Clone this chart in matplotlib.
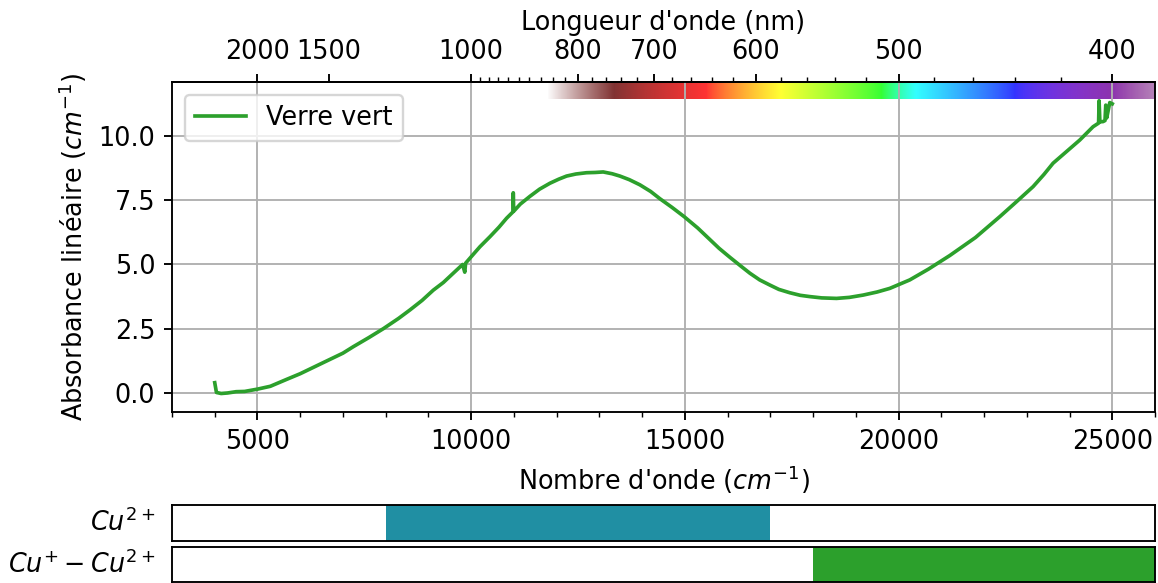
import numpy as np
import matplotlib
matplotlib.use("Agg")
import matplotlib.pyplot as plt
from matplotlib.ticker import AutoMinorLocator, FixedLocator

# Absorption spectrum of the green glass (wavenumber in cm^-1, absorbance in cm^-1)
wavenumber = [
    4000, 4040, 4150, 4300, 4500, 4700, 5000, 5300, 5683, 6000, 6462, 7000,
    7241, 7600, 7943, 8300, 8567, 8850, 9113, 9350, 9581, 9800, 9850, 9870,
    10000, 10205, 10439, 10650, 10829, 10980, 10985, 10995, 11150, 11374,
    11600, 11842, 12050, 12232, 12450, 12700, 12900, 13089, 13300, 13480,
    13700, 13947, 14200, 14415, 14700, 14984, 15300, 15585, 15800, 16053,
    16300, 16521, 16750, 16988, 17200, 17456, 17700, 17924, 18200, 18549,
    18850, 19173, 19500, 19795, 20050, 20263, 20700, 21200, 21800, 22368,
    22758, 23148, 23400, 23615, 23927, 24239, 24551, 24680, 24692, 24710,
    24785, 24830, 24848, 24870, 24942, 25000,
]
absorbance = [
    0.40, 0.02, -0.02, 0.00, 0.05, 0.06, 0.15, 0.26, 0.53, 0.75, 1.12, 1.55,
    1.80, 2.15, 2.50, 2.90, 3.23, 3.60, 4.00, 4.30, 4.66, 5.00, 4.70, 5.05,
    5.30, 5.69, 6.08, 6.45, 6.80, 7.05, 7.79, 7.07, 7.35, 7.65,
    7.93, 8.16, 8.32, 8.44, 8.52, 8.57, 8.58, 8.60, 8.53, 8.44,
    8.30, 8.10, 7.84, 7.56, 7.22, 6.86, 6.42, 5.97, 5.63, 5.28,
    4.95, 4.66, 4.40, 4.20, 4.03, 3.90, 3.80, 3.75, 3.70, 3.68,
    3.72, 3.81, 3.93, 4.07, 4.25, 4.40, 4.82, 5.35, 6.05, 6.86,
    7.44, 8.03, 8.50, 8.94, 9.39, 9.84, 10.36, 10.50, 11.37, 10.55,
    10.56, 10.60, 11.20, 10.70, 11.30, 11.25,
]
series_label = "Verre vert"

# Absorption bands of the copper species (cm^-1)
band_labels = [r"$Cu^{2+}$", r"$Cu^{+}-Cu^{2+}$"]
band_ranges = [(8000, 17000), (18000, 26000)]
band_colors = ["#208fa3", "#2ca02c"]

x_ticks = [5000, 10000, 15000, 20000, 25000]
y_ticks = [0.0, 2.5, 5.0, 7.5, 10.0]
nm_major = [2000, 1500, 1000, 800, 700, 600, 500, 400]
nm_minor = list(range(420, 1000, 20))

XLIM = (3000, 26000)
YLIM = (-0.74, 12.1)

plt.rcParams["font.size"] = 10.8


def wn_to_nm(x):
    x = np.asarray(x, dtype=float)
    with np.errstate(divide="ignore", invalid="ignore"):
        return 1e7 / x


def wavelength_to_rgba(lam, gamma=0.8):
    """Approximate visible colour of a wavelength (nm), faded outside the visible range."""
    w = min(max(lam, 380.0), 750.0)
    if w <= 440:
        att = 0.3 + 0.7 * (w - 380) / 60
        r, g, b = ((440 - w) / 60 * att) ** gamma, 0.0, att ** gamma
    elif w <= 490:
        r, g, b = 0.0, ((w - 440) / 50) ** gamma, 1.0
    elif w <= 510:
        r, g, b = 0.0, 1.0, ((510 - w) / 20) ** gamma
    elif w <= 580:
        r, g, b = ((w - 510) / 70) ** gamma, 1.0, 0.0
    elif w <= 645:
        r, g, b = 1.0, ((645 - w) / 65) ** gamma, 0.0
    else:
        att = 0.3 + 0.7 * (750 - w) / 105
        r, g, b = att ** gamma, 0.0, 0.0
    a = 0.8
    if lam > 750:
        a = 0.8 * max(0.0, (850 - lam) / 100)
    elif lam < 400:
        a = 0.8 - 0.4 * (400 - lam) / 20
    return (r, g, b, max(a, 0.0))


dpi = 170
fig = plt.figure(figsize=(1158 / dpi, 583 / dpi), dpi=dpi)

ax = fig.add_axes([172 / 1158, 1 - 412 / 583, 983 / 1158, 330 / 583])
ax.plot(wavenumber, absorbance, color="#2ca02c", lw=1.55, label=series_label, zorder=3)

# visible spectrum strip along the top of the plot
strip_wn = np.linspace(11800, XLIM[1], 700)
strip = np.array([wavelength_to_rgba(l) for l in wn_to_nm(strip_wn)])
ax.imshow(strip[np.newaxis, :, :], extent=[strip_wn[0], strip_wn[-1], 11.44, YLIM[1]],
          aspect="auto", interpolation="bilinear", zorder=0)

ax.set_xlim(*XLIM)
ax.set_ylim(*YLIM)
ax.set_xticks(x_ticks)
ax.set_yticks(y_ticks)
ax.xaxis.set_minor_locator(AutoMinorLocator(5))
ax.grid(True, color="#b0b0b0", lw=0.8)
ax.set_xlabel(r"Nombre d'onde ($cm^{-1}$)")
ax.set_ylabel(r"Absorbance linéaire ($cm^{-1}$)")
ax.legend(loc="upper left")

sec = ax.secondary_xaxis("top", functions=(wn_to_nm, wn_to_nm))
sec.set_xticks(nm_major)
sec.set_xticklabels([str(v) for v in nm_major])
sec.xaxis.set_minor_locator(FixedLocator(nm_minor))
sec.set_xlabel("Longueur d'onde (nm)")

# copper band panels
band_boxes = [(1 - 541 / 583, 36 / 583), (1 - 582 / 583, 35 / 583)]
for (bottom, height), label, (lo, hi), col in zip(band_boxes, band_labels, band_ranges, band_colors):
    bax = fig.add_axes([172 / 1158, bottom, 983 / 1158, height])
    bax.axvspan(lo, hi, color=col, lw=0)
    bax.set_xlim(*XLIM)
    bax.set_ylim(0, 1)
    bax.set_xticks([])
    bax.set_yticks([])
    bax.text(-0.017, 0.5, label, transform=bax.transAxes, ha="right", va="center")

fig.savefig("out.png", dpi=dpi)
